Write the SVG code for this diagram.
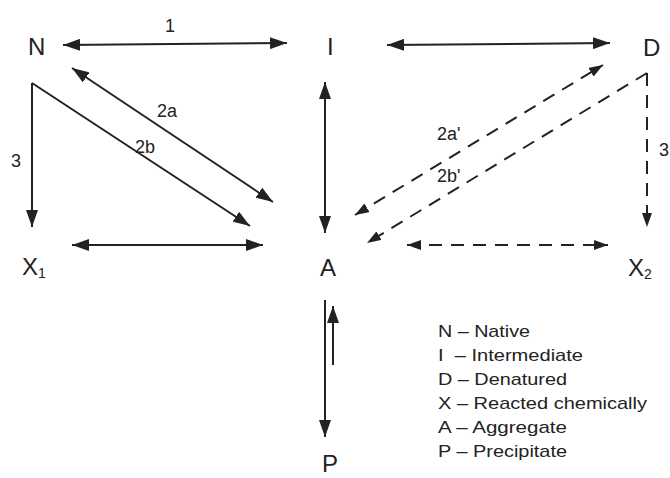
<svg xmlns="http://www.w3.org/2000/svg" width="670" height="478" viewBox="0 0 670 478">
<style>
text{font-family:"Liberation Sans",Arial,sans-serif;fill:#222}
.node{font-size:24px}
.sub{font-size:14px}
.lbl{font-size:18px}
.leg{font-size:17px}
.c{fill:none;stroke:#222;stroke-width:2}
.s{marker-end:url(#ah)}
.ss{marker-start:url(#ah);marker-end:url(#ah)}
.d{stroke-dasharray:13 9}
.ds{marker-end:url(#dh)}
.dss{marker-start:url(#dh);marker-end:url(#dh)}
</style>
<defs>
<marker id="ah" markerUnits="userSpaceOnUse" markerWidth="18" markerHeight="12" refX="17" refY="6" orient="auto-start-reverse"><path d="M0,0 L17,6 L0,12 z" fill="#222"/></marker>
<marker id="dh" markerUnits="userSpaceOnUse" markerWidth="15" markerHeight="10" refX="14" refY="5" orient="auto-start-reverse"><path d="M0,0 L14,5 L0,10 z" fill="#222"/></marker>
</defs>
<rect width="670" height="478" fill="#fff"/>
<g id="node-N"><text class="node" x="28" y="55">N</text></g>
<g id="node-I"><text class="node" x="327" y="55">I</text></g>
<g id="node-D"><text class="node" x="643" y="56">D</text></g>
<g id="node-X1"><text class="node" x="22" y="275">X<tspan class="sub" dy="3">1</tspan></text></g>
<g id="node-A"><text class="node" x="320" y="276">A</text></g>
<g id="node-X2"><text class="node" x="628" y="276">X<tspan class="sub" dy="3">2</tspan></text></g>
<g id="node-P"><text class="node" x="322" y="472">P</text></g>
<g id="connectors">
<line class="c ss" x1="63" y1="45" x2="287" y2="43"/>
<line class="c ss" x1="387" y1="45" x2="610" y2="43"/>
<line class="c ss" x1="72" y1="68" x2="273" y2="202"/>
<path class="c s" d="M32,83 L250,226"/>
<path class="c s" d="M32,83 L32,227"/>
<line class="c ss" x1="325" y1="82" x2="325" y2="233"/>
<line class="c ss" x1="72" y1="245" x2="263" y2="245"/>
<line class="c s" x1="325" y1="300" x2="325" y2="437"/>
<line class="c s" x1="333" y1="365" x2="333" y2="306"/>
<line class="c d dss" x1="355" y1="215" x2="603" y2="65"/>
<path class="c d ds" d="M647,73 L367,243"/>
<path class="c d ds" d="M647,73 L647,227"/>
<line class="c d dss" x1="407" y1="245" x2="608" y2="245"/>
<text class="lbl" x="165" y="32">1</text>
<text class="lbl" x="157" y="117">2a</text>
<text class="lbl" x="135" y="153">2b</text>
<text class="lbl" x="11" y="167">3</text>
<text class="lbl" x="437" y="140">2a'</text>
<text class="lbl" x="437" y="182">2b'</text>
<text class="lbl" x="659" y="156">3</text>
</g>
<g id="legend">
<text class="leg" x="438" y="337" textLength="92" lengthAdjust="spacingAndGlyphs">N – Native</text>
<text class="leg" x="438" y="361" textLength="145" lengthAdjust="spacingAndGlyphs" xml:space="preserve">I  – Intermediate</text>
<text class="leg" x="438" y="385" textLength="129" lengthAdjust="spacingAndGlyphs">D – Denatured</text>
<text class="leg" x="438" y="409" textLength="209" lengthAdjust="spacingAndGlyphs">X – Reacted chemically</text>
<text class="leg" x="438" y="433" textLength="129" lengthAdjust="spacingAndGlyphs">A – Aggregate</text>
<text class="leg" x="438" y="457" textLength="129" lengthAdjust="spacingAndGlyphs">P – Precipitate</text>
</g>
</svg>
